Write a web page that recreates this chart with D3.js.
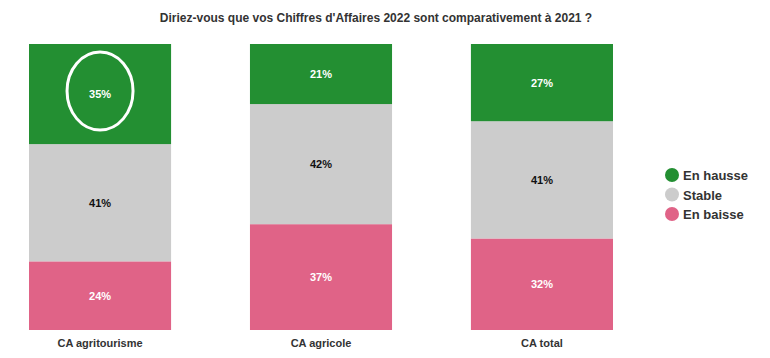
<!DOCTYPE html>
<html>
<head>
<meta charset="utf-8">
<script src="https://cdn.jsdelivr.net/npm/d3@7"></script>
<style>
  body { margin: 0; background: #fff; }
  svg { font-family: "Liberation Sans", Arial, sans-serif; }
</style>
</head>
<body>
<div id="chart"></div>
<script>
var categories = ["CA agritourisme", "CA agricole", "CA total"];
var series = ["En baisse", "Stable", "En hausse"];
var enHausse = [35, 21, 27];
var stable = [41, 42, 41];
var enBaisse = [24, 37, 32];
var legendOrder = ["En hausse", "Stable", "En baisse"];

var colors = { "En hausse": "#238f32", "Stable": "#cccccc", "En baisse": "#e06387" };
var labelColors = { "En hausse": "#ffffff", "Stable": "#111111", "En baisse": "#ffffff" };

var data = categories.map(function(c, i) {
  return { cat: c, "En hausse": enHausse[i], "Stable": stable[i], "En baisse": enBaisse[i] };
});

var svgWidth = 770, svgHeight = 358;

var svg = d3.select("#chart").append("svg")
  .attr("width", svgWidth)
  .attr("height", svgHeight);

var x = d3.scaleBand()
  .domain(categories)
  .range([29, 613])
  .paddingInner(0.357)
  .paddingOuter(0);

var y = d3.scaleLinear()
  .domain([0, 100])
  .range([330, 44]);

var stacked = d3.stack().keys(series)(data);

// title
svg.append("text")
  .attr("x", 376)
  .attr("y", 22)
  .attr("text-anchor", "middle")
  .attr("font-size", "12px")
  .attr("font-weight", "bold")
  .attr("fill", "#333")
  .text("Diriez-vous que vos Chiffres d'Affaires 2022 sont comparativement à 2021 ?");

// bars
var layers = svg.selectAll("g.layer")
  .data(stacked)
  .enter().append("g")
  .attr("class", "layer")
  .attr("fill", d => colors[d.key]);

layers.selectAll("rect")
  .data(d => d)
  .enter().append("rect")
  .attr("x", d => x(d.data.cat))
  .attr("width", x.bandwidth())
  .attr("y", d => y(d[1]))
  .attr("height", d => y(d[0]) - y(d[1]));

// value labels
stacked.forEach(function(layer) {
  svg.selectAll(null)
    .data(layer)
    .enter().append("text")
    .attr("x", d => x(d.data.cat) + x.bandwidth() / 2)
    .attr("y", d => (y(d[0]) + y(d[1])) / 2 + 4)
    .attr("text-anchor", "middle")
    .attr("font-size", "11px")
    .attr("font-weight", "bold")
    .attr("fill", labelColors[layer.key])
    .text(d => d.data[layer.key] + "%");
});

// highlight ellipse around first green segment
var hl = stacked[2][0];
svg.append("ellipse")
  .attr("cx", x(categories[0]) + x.bandwidth() / 2)
  .attr("cy", (y(hl[0]) + y(hl[1])) / 2 - 3)
  .attr("rx", 33)
  .attr("ry", 39)
  .attr("fill", "none")
  .attr("stroke", "#fff")
  .attr("stroke-width", 3);

// category labels
svg.selectAll("text.cat")
  .data(categories)
  .enter().append("text")
  .attr("class", "cat")
  .attr("x", d => x(d) + x.bandwidth() / 2)
  .attr("y", 347)
  .attr("text-anchor", "middle")
  .attr("font-size", "11px")
  .attr("font-weight", "bold")
  .attr("fill", "#333")
  .text(d => d);

// legend
var legend = svg.selectAll("g.legend")
  .data(legendOrder)
  .enter().append("g")
  .attr("class", "legend")
  .attr("transform", (d, i) => "translate(672," + (175 + i * 19.5) + ")");

legend.append("circle")
  .attr("r", 7)
  .attr("fill", d => colors[d]);

legend.append("text")
  .attr("x", 11)
  .attr("y", 5)
  .attr("font-size", "13px")
  .attr("font-weight", "bold")
  .attr("fill", "#333")
  .text(d => d);
</script>
</body>
</html>
